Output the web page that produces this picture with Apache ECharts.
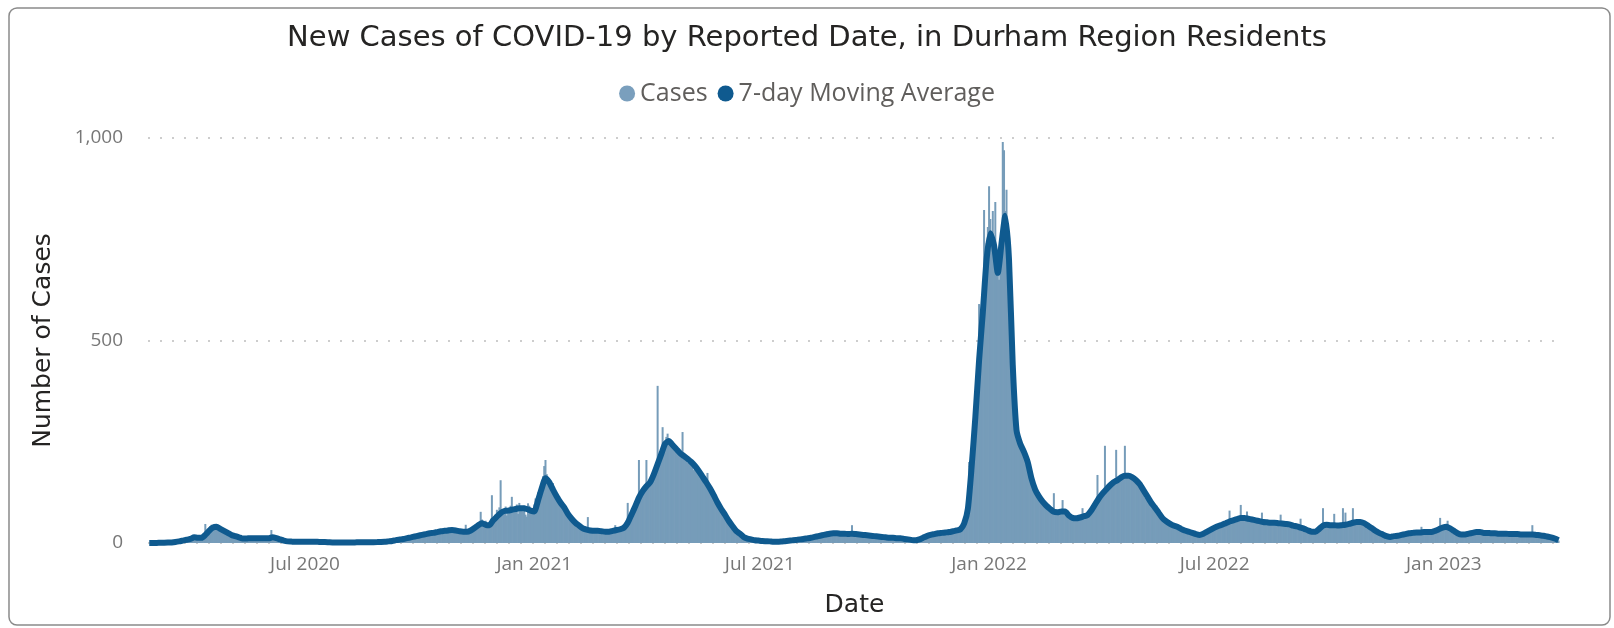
<!DOCTYPE html>
<html>
<head>
<meta charset="utf-8">
<script src="https://cdn.jsdelivr.net/npm/echarts@6/dist/echarts.min.js"></script>
<style>
html, body { margin: 0; padding: 0; background: #fff; }
#chart { width: 1614px; height: 628px; }
</style>
</head>
<body>
<div id="chart"></div>
<script>
// daily new cases, one block per month (block start date alongside)
var caseBlockStarts = [
    '2020-02-27', '2020-03-01', '2020-04-01', '2020-05-01', '2020-06-01', '2020-07-01',
    '2020-08-01', '2020-09-01', '2020-10-01', '2020-11-01', '2020-12-01',
    '2021-01-01', '2021-02-01', '2021-03-01', '2021-04-01', '2021-05-01', '2021-06-01',
    '2021-07-01', '2021-08-01', '2021-09-01', '2021-10-01', '2021-11-01', '2021-12-01',
    '2022-01-01', '2022-02-01', '2022-03-01', '2022-04-01', '2022-05-01', '2022-06-01',
    '2022-07-01', '2022-08-01', '2022-09-01', '2022-10-01', '2022-11-01', '2022-12-01',
    '2023-01-01', '2023-02-01', '2023-03-01', '2023-04-01'
];
var caseBlocks = [
    [0, 0, 0],
    [0, 0, 1, 0, 1, 0, 0, 1, 0, 1, 1, 2, 0, 1, 2, 1, 3, 2, 4, 3, 5, 4, 6, 7, 5, 9, 8, 10, 7, 12, 11],
    [14, 16, 13, 18, 12, 10, 11, 13, 9, 15, 22, 47, 30, 35, 38, 42, 45, 36, 44, 40, 38, 35, 30, 33, 31, 28, 25, 27, 22, 24],
    [20, 18, 22, 16, 15, 17, 13, 14, 12, 11, 10, 9, 12, 8, 11, 13, 10, 12, 14, 11, 9, 13, 12, 10, 14, 12, 11, 13, 10, 12, 15],
    [12, 10, 13, 32, 11, 12, 14, 10, 9, 8, 7, 6, 5, 6, 4, 5, 3, 4, 3, 5, 2, 4, 3, 2, 4, 3, 2, 3, 4, 2],
    [3, 4, 2, 3, 5, 2, 3, 4, 2, 3, 4, 3, 2, 1, 3, 2, 4, 2, 1, 2, 3, 1, 2, 1, 0, 1, 2, 1, 0, 2, 1],
    [1, 2, 0, 1, 3, 1, 2, 1, 0, 2, 1, 3, 2, 1, 2, 0, 1, 2, 3, 1, 2, 1, 3, 2, 1, 2, 3, 1, 2, 4, 2],
    [3, 2, 4, 3, 5, 2, 3, 4, 6, 5, 7, 8, 6, 9, 10, 8, 11, 9, 13, 12, 10, 14, 13, 11, 16, 15, 17, 14, 19, 18],
    [21, 18, 23, 17, 22, 26, 24, 20, 27, 25, 23, 28, 26, 30, 24, 29, 27, 33, 28, 31, 26, 35, 30, 38, 29, 34, 31, 28, 33, 36, 30],
    [29, 26, 31, 24, 28, 33, 45, 30, 25, 29, 32, 38, 35, 42, 40, 47, 45, 52, 77, 58, 48, 44, 55, 40, 38, 42, 48, 118, 62, 60],
    [70, 82, 65, 88, 155, 72, 80, 75, 90, 68, 85, 79, 92, 114, 76, 88, 81, 95, 72, 99, 84, 90, 78, 93, 70, 65, 98, 92, 85, 74, 80],
    [95, 110, 88, 125, 130, 118, 145, 165, 190, 205, 170, 158, 150, 142, 135, 148, 128, 120, 112, 105, 115, 98, 102, 90, 95, 84, 78, 72, 70, 65, 60],
    [58, 52, 55, 48, 42, 45, 40, 38, 36, 34, 31, 35, 64, 29, 33, 28, 31, 27, 32, 29, 30, 26, 34, 28, 31, 27, 25, 29],
    [25, 28, 30, 26, 29, 33, 44, 31, 35, 30, 34, 38, 36, 42, 40, 48, 99, 60, 72, 75, 80, 88, 95, 100, 108, 205, 118, 125, 130, 140, 135],
    [205, 140, 150, 160, 155, 170, 182, 178, 190, 388, 200, 215, 225, 286, 240, 250, 262, 270, 255, 248, 240, 235, 245, 230, 238, 225, 228, 215, 220, 274],
    [215, 210, 205, 198, 202, 195, 190, 188, 180, 185, 178, 170, 172, 165, 160, 158, 155, 150, 148, 173, 140, 130, 125, 118, 112, 105, 100, 95, 90, 85, 80],
    [75, 70, 62, 60, 55, 52, 48, 45, 40, 38, 35, 30, 28, 25, 22, 20, 18, 16, 14, 12, 11, 10, 9, 9, 8, 8, 7, 8, 6, 7],
    [6, 5, 4, 6, 5, 4, 3, 4, 3, 2, 3, 4, 2, 3, 4, 3, 5, 4, 3, 5, 6, 4, 7, 5, 6, 8, 5, 7, 9, 6, 8],
    [9, 8, 10, 11, 9, 13, 12, 10, 12, 14, 13, 15, 14, 17, 16, 18, 19, 17, 21, 20, 22, 19, 23, 21, 24, 22, 25, 23, 26, 24, 22],
    [23, 25, 21, 24, 22, 26, 20, 23, 25, 21, 24, 22, 44, 23, 21, 20, 24, 22, 19, 23, 21, 18, 22, 20, 19, 21, 17, 18, 20, 19],
    [18, 17, 19, 16, 15, 17, 14, 16, 15, 13, 14, 15, 12, 13, 14, 12, 13, 11, 12, 13, 12, 11, 10, 12, 9, 10, 8, 9, 8, 7, 8],
    [7, 8, 6, 9, 10, 12, 11, 14, 13, 16, 15, 18, 17, 20, 19, 22, 21, 23, 22, 24, 23, 25, 26, 24, 27, 25, 28, 26, 30, 27],
    [28, 30, 33, 29, 35, 31, 34, 38, 42, 45, 50, 55, 62, 75, 90, 200, 150, 210, 260, 300, 340, 380, 420, 590, 480, 520, 600, 822, 700, 740, 780],
    [881, 800, 760, 820, 700, 842, 720, 680, 650, 700, 760, 990, 970, 820, 872, 760, 600, 520, 460, 380, 320, 290, 270, 255, 240, 250, 230, 225, 215, 205, 210],
    [195, 180, 165, 150, 140, 130, 125, 120, 115, 110, 105, 100, 95, 98, 92, 88, 85, 90, 82, 80, 78, 123, 75, 72, 80, 76, 74, 79],
    [106, 75, 70, 68, 65, 60, 62, 58, 64, 60, 62, 59, 63, 61, 65, 60, 86, 68, 70, 72, 75, 78, 82, 88, 92, 96, 100, 105, 168, 112, 118],
    [120, 125, 130, 240, 135, 140, 145, 150, 148, 155, 152, 160, 230, 158, 162, 165, 168, 170, 165, 240, 172, 168, 160, 165, 162, 158, 155, 150, 148, 145],
    [140, 135, 130, 125, 118, 112, 108, 105, 102, 98, 95, 90, 85, 82, 78, 75, 70, 68, 65, 62, 58, 55, 52, 50, 48, 46, 45, 43, 42, 40, 41],
    [40, 38, 36, 34, 33, 31, 30, 29, 28, 27, 26, 25, 24, 23, 22, 21, 20, 21, 20, 22, 24, 25, 27, 28, 30, 32, 33, 35, 36, 38],
    [40, 42, 44, 43, 46, 45, 48, 50, 49, 52, 54, 53, 80, 58, 57, 60, 59, 62, 61, 64, 60, 94, 63, 61, 62, 60, 78, 61, 58, 60, 57],
    [58, 56, 55, 57, 54, 53, 55, 75, 54, 51, 53, 50, 52, 51, 49, 52, 50, 48, 51, 49, 50, 48, 70, 49, 46, 48, 47, 45, 47, 44, 46],
    [45, 43, 44, 41, 42, 40, 38, 60, 36, 37, 35, 33, 34, 31, 30, 29, 28, 27, 26, 28, 30, 33, 36, 39, 41, 86, 44, 45, 43, 46],
    [44, 45, 43, 46, 72, 44, 45, 43, 44, 46, 42, 86, 44, 75, 45, 46, 47, 48, 50, 86, 51, 52, 53, 52, 54, 53, 51, 50, 49, 47, 45],
    [43, 40, 38, 36, 33, 31, 29, 28, 27, 26, 25, 24, 22, 21, 20, 18, 17, 16, 15, 15, 16, 16, 17, 18, 18, 19, 20, 19, 21, 20],
    [21, 22, 23, 24, 25, 24, 25, 26, 25, 27, 26, 25, 27, 40, 28, 27, 26, 27, 28, 27, 26, 27, 28, 29, 31, 33, 35, 36, 62, 38, 39],
    [40, 41, 40, 55, 36, 34, 32, 30, 28, 26, 25, 23, 22, 21, 20, 20, 21, 20, 22, 23, 24, 25, 26, 25, 27, 26, 28, 27, 27, 26, 27],
    [26, 25, 27, 24, 26, 25, 24, 26, 23, 25, 24, 23, 25, 24, 22, 24, 23, 22, 24, 23, 22, 23, 21, 22, 23, 21, 22, 23],
    [22, 21, 23, 22, 20, 21, 22, 20, 21, 19, 20, 21, 44, 20, 19, 21, 20, 19, 18, 20, 19, 18, 17, 18, 16, 17, 15, 16, 14, 13, 12],
    [10, 8, 6]
];

// 7-day moving average, one value every 3 days from maStart
var maStart = '2020-02-27';
var maStepDays = 3;
var maValues = [
    0,
    0, 0.3, 0.5, 0.6, 1, 1.5, 2.5, 4, 6, 8, 10,
    14, 13, 13, 20, 30, 38, 40, 35, 30, 25,
    20, 17, 14, 11, 11, 12, 12, 12, 12, 12,
    12, 14, 12, 9, 6, 4, 3.5, 3, 3, 3,
    3, 3, 3, 3, 2.5, 2.5, 2, 1.5, 1.5, 1.5,
    1.5, 1.5, 1.5, 1.5, 1.8, 1.8, 2, 2, 2, 2.2, 2.5,
    3, 4, 5, 7, 8.5, 10, 12, 14, 16, 18,
    20, 22, 24, 25, 27, 29, 30, 31, 32, 31,
    29, 28, 28, 31, 37, 44, 49, 45, 44, 56,
    65, 74, 79, 80, 82, 84, 86, 86, 84, 80,
    78, 105, 135, 160, 150, 132, 115, 100, 88, 72, 60,
    50, 43, 36, 33, 31, 30, 30, 29, 28,
    28, 30, 32, 34, 38, 50, 70, 90, 112, 128,
    140, 150, 170, 195, 220, 245, 252, 242, 232, 222,
    215, 208, 200, 190, 178, 164, 150, 135, 118, 100, 84,
    70, 55, 42, 30, 23, 15, 11, 9, 7, 6,
    5, 4.5, 4, 3, 3, 3.5, 4.5, 5.5, 6.5, 7.5,
    9, 10, 11.5, 13, 15, 17, 19, 21, 23, 24,
    24, 23, 23, 22, 23, 22, 21, 20, 19, 18,
    17, 16, 15, 14, 13, 13, 12, 12, 10, 9, 7.5,
    7, 9, 13, 17, 20, 22, 24, 25, 26, 27,
    29, 31, 34, 48, 85, 188, 311, 452, 570, 700,
    765, 735, 667, 740, 808, 700, 440, 279, 245, 225,
    200, 160, 132, 115, 102, 92, 84, 77, 76, 78,
    78, 68, 62, 61, 63, 66, 69, 80, 95, 110,
    122, 132, 142, 150, 155, 162, 166, 166, 162, 155,
    145, 130, 115, 100, 88, 75, 62, 54, 48, 43,
    40, 35, 31, 28, 25, 22, 20, 23, 28, 33,
    38, 42, 45, 49, 53, 56, 59, 62, 62, 60, 58,
    56, 54, 52, 51, 50, 50, 49, 48, 47, 46,
    43, 41, 38, 35, 31, 28, 28, 35, 43, 45,
    44, 44, 43, 44, 45, 47, 50, 52, 52, 49,
    43, 37, 30, 25, 21, 17, 15, 17, 18, 20,
    22, 24, 25, 26, 26, 27, 27, 27, 30, 34, 38,
    40, 36, 30, 24, 21, 21, 23, 25, 27, 27,
    25, 25, 24, 24, 23, 23, 23, 22, 22,
    22, 21, 21, 21, 21, 20, 19, 18, 16, 14, 11,
    7
];

var tickDates = ['2020-07-01', '2021-01-01', '2021-07-01', '2022-01-01', '2022-07-01', '2023-01-01'];
var tickLabels = ['Jul 2020', 'Jan 2021', 'Jul 2021', 'Jan 2022', 'Jul 2022', 'Jan 2023'];

var axisMinDate = '2020-02-26';
var axisMaxDate = '2023-04-05';

// x positions are whole days counted from axisMinDate
function dayNum(str, offset) {
    var p = str.split('-');
    var t = Date.UTC(+p[0], +p[1] - 1, +p[2] + (offset || 0));
    var q = axisMinDate.split('-');
    return Math.round((t - Date.UTC(+q[0], +q[1] - 1, +q[2])) / 86400000);
}

var caseData = [];
for (var b = 0; b < caseBlocks.length; b++) {
    for (var d = 0; d < caseBlocks[b].length; d++) {
        caseData.push([dayNum(caseBlockStarts[b], d), caseBlocks[b][d]]);
    }
}
var maData = [];
for (var i = 0; i < maValues.length; i++) {
    maData.push([dayNum(maStart, i * maStepDays), maValues[i]]);
}
var tickDays = tickDates.map(function (s) { return dayNum(s); });

var labelFont = '"Open Sans", "Noto Sans", sans-serif';
var headFont = '"DejaVu Sans", sans-serif';

var chart = echarts.init(document.getElementById('chart'), null, { renderer: 'canvas' });
chart.setOption({
    animation: false,
    backgroundColor: '#fff',
    title: {
        text: 'New Cases of COVID-19 by Reported Date, in Durham Region Residents',
        left: 'center',
        top: 19,
        textStyle: { fontFamily: headFont, fontSize: 29, fontWeight: 'normal', color: '#252423' }
    },
    legend: {
        top: 76,
        left: 'center',
        itemWidth: 16,
        itemHeight: 16,
        itemGap: 10,
        textStyle: { fontFamily: labelFont, fontSize: 25, color: '#605e5c' },
        data: [
            { name: 'Cases', icon: 'circle', itemStyle: { color: '#7a9fbd' } },
            { name: '7-day Moving Average', icon: 'circle', itemStyle: { color: '#0f5a8f' } }
        ]
    },
    grid: { left: 148, right: 53, top: 138, bottom: 85 },
    xAxis: {
        type: 'value',
        min: 0,
        max: dayNum(axisMaxDate),
        name: 'Date',
        nameLocation: 'middle',
        nameGap: 50,
        nameTextStyle: { fontFamily: headFont, fontSize: 25, color: '#252423' },
        axisLine: { show: false },
        axisTick: { show: false },
        splitLine: { show: false },
        axisLabel: {
            customValues: tickDays,
            margin: 12,
            fontFamily: labelFont,
            fontSize: 19,
            color: '#777',
            formatter: function (v) {
                var idx = tickDays.indexOf(Math.round(v));
                return idx >= 0 ? tickLabels[idx] : '';
            }
        }
    },
    yAxis: {
        type: 'value',
        min: 0,
        max: 1000,
        interval: 500,
        name: 'Number of Cases',
        nameLocation: 'middle',
        nameGap: 92,
        nameTextStyle: { fontFamily: headFont, fontSize: 25, color: '#252423' },
        axisLine: { show: false },
        axisTick: { show: false },
        axisLabel: {
            margin: 25,
            fontFamily: labelFont,
            fontSize: 19,
            color: '#777',
            formatter: function (v) {
                return String(v).replace(/\B(?=(\d{3})+(?!\d))/g, ',');
            }
        },
        splitLine: { lineStyle: { type: [2, 10], color: '#bdbdbd', width: 1.5 } }
    },
    series: [
        {
            name: 'Cases',
            type: 'bar',
            data: caseData,
            barWidth: 2,
            itemStyle: { color: '#769cb9' }
        },
        {
            name: '7-day Moving Average',
            type: 'line',
            data: maData,
            showSymbol: false,
            smooth: 0.2,
            lineStyle: { width: 6, color: '#0f5a8f' },
            itemStyle: { color: '#0f5a8f' },
            z: 3
        }
    ],
    graphic: [{
        type: 'rect',
        silent: true,
        shape: { x: 9, y: 8, width: 1601, height: 617, r: 8 },
        style: { fill: 'none', stroke: '#8a8a8a', lineWidth: 1.5 }
    }]
});
</script>
</body>
</html>
